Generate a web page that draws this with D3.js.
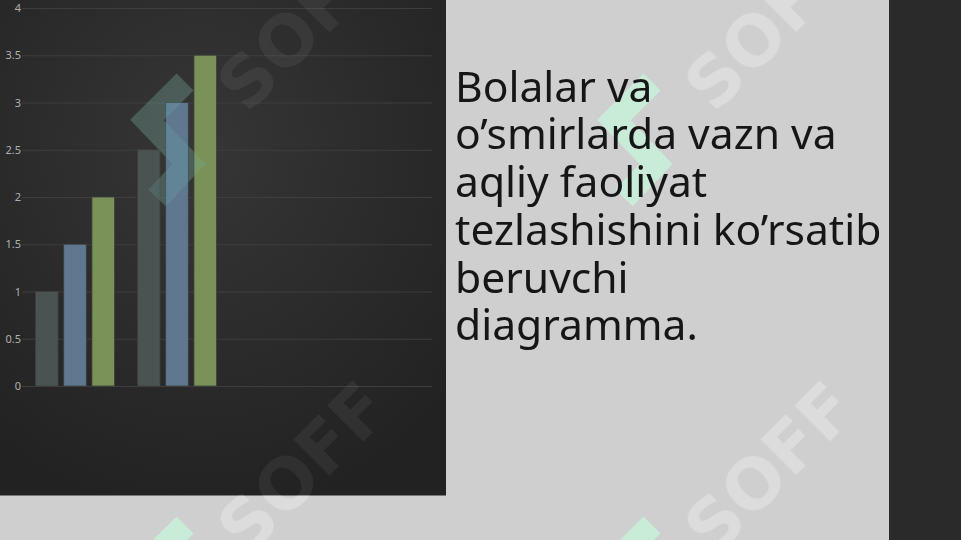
<!DOCTYPE html>
<html>
<head>
<meta charset="utf-8">
<script src="https://cdn.jsdelivr.net/npm/d3@7"></script>
<style>
  html, body { margin: 0; padding: 0; background: #cfcfcf; }
  svg { display: block; }
</style>
</head>
<body>
<svg id="chart" width="961" height="540"></svg>
<script>
// ---- data ----
const categories = ["Category 1", "Category 2", "Category 3", "Category 4"];
const seriesNames = ["Series 1", "Series 2", "Series 3"];
const series1 = [1, 2.5, null, null];
const series2 = [1.5, 3, null, null];
const series3 = [2, 3.5, null, null];
const yTicks = [0, 0.5, 1, 1.5, 2, 2.5, 3, 3.5, 4];
const yTickLabels = ["0", "0.5", "1", "1.5", "2", "2.5", "3", "3.5", "4"];
const titleLines = ["Bolalar va", "o\u2019smirlarda vazn va", "aqliy faoliyat", "tezlashishini ko\u2019rsatib", "beruvchi", "diagramma."];
const watermarkText = "SOFF";

const seriesValues = [series1, series2, series3];
const colors = ["#4b5252", "#5f7890", "#7a9157"];

const svg = d3.select("#chart");
const W = 961, H = 540;
const defs = svg.append("defs");

// backgrounds
svg.append("rect").attr("x", 0).attr("y", 0).attr("width", W).attr("height", H).attr("fill", "#cfcfcf");
svg.append("rect").attr("x", 889).attr("y", 0).attr("width", W - 889).attr("height", H).attr("fill", "#2a2a2a");

const grad = defs.append("radialGradient").attr("id", "panelGrad")
  .attr("cx", "45%").attr("cy", "30%").attr("r", "75%");
grad.append("stop").attr("offset", "0%").attr("stop-color", "#363636");
grad.append("stop").attr("offset", "100%").attr("stop-color", "#222222");

const panel = { x: 0, y: 0, w: 446, h: 495.5 };
svg.append("rect").attr("x", panel.x).attr("y", panel.y).attr("width", panel.w).attr("height", panel.h)
  .attr("fill", "url(#panelGrad)");

defs.append("clipPath").attr("id", "panelClip").append("rect")
  .attr("x", panel.x).attr("y", panel.y).attr("width", panel.w).attr("height", panel.h);
defs.append("mask").attr("id", "outsideMask").call(m => {
  m.append("rect").attr("x", 0).attr("y", 0).attr("width", W).attr("height", H).attr("fill", "white");
  m.append("rect").attr("x", panel.x).attr("y", panel.y).attr("width", panel.w).attr("height", panel.h).attr("fill", "black");
  m.append("rect").attr("x", 889).attr("y", 0).attr("width", W - 889).attr("height", H).attr("fill", "black");
});

// ---- chart ----
const y = d3.scaleLinear().domain([0, 4]).range([386, 8]);
const x0 = d3.scaleBand().domain(categories).range([24, 432]).paddingInner(0.225).paddingOuter(0.1125);
const x1 = d3.scaleBand().domain(seriesNames).range([0, x0.bandwidth()]).paddingInner(0.2);

const yAxis = d3.axisLeft(y).tickValues(yTicks).tickSize(-(432 - 22))
  .tickFormat((d, i) => yTickLabels[i]).tickPadding(1);
const gy = svg.append("g").attr("transform", "translate(22,0)").call(yAxis);
gy.select(".domain").remove();
gy.selectAll(".tick line").attr("stroke", "#3e3e3e").attr("stroke-width", 1);
gy.selectAll(".tick text").attr("fill", "#b0b0b0").attr("font-size", 11)
  .attr("font-family", "'Noto Sans', 'Open Sans', sans-serif");

// ---- watermarks (under the bars in the panel) ----
const tileCenters = [[303, 25], [770, 25], [303, 468], [770, 468]];
const logoTops = [[181, 68], [648, 68], [181, 511], [648, 511]];
function drawWatermarks(g, textFill, textOpacity, logoFill, logoOpacity) {
  g.selectAll("path.logo").data(logoTops).join("path").attr("class", "logo")
    .attr("transform", d => `translate(${d[0]},${d[1]})`)
    .attr("d", "M4,14 L-34,52 L8,96 L-24,130")
    .attr("fill", "none").attr("stroke", logoFill).attr("stroke-opacity", logoOpacity)
    .attr("stroke-width", 24).attr("stroke-linejoin", "miter");
  g.selectAll("text.wm").data(tileCenters).join("text").attr("class", "wm")
    .attr("transform", d => `translate(${d[0]},${d[1]}) rotate(-45)`)
    .attr("text-anchor", "middle").attr("dominant-baseline", "central")
    .attr("font-family", "'DejaVu Sans', sans-serif").attr("font-weight", "bold")
    .attr("font-size", 70).attr("fill", textFill).attr("fill-opacity", textOpacity)
    .text(watermarkText);
}
const wmPanel = svg.append("g").attr("clip-path", "url(#panelClip)");
drawWatermarks(wmPanel, "#ffffff", 0.06, "#b8c8c0", 0.14);

const groups = svg.append("g").selectAll("g").data(categories).join("g")
  .attr("transform", d => `translate(${x0(d)},0)`);
groups.selectAll("rect")
  .data((c, ci) => seriesNames.map((s, si) => ({ s, si, v: seriesValues[si][ci] })).filter(d => d.v != null))
  .join("rect")
  .attr("x", d => x1(d.s))
  .attr("width", x1.bandwidth())
  .attr("y", d => y(d.v))
  .attr("height", d => y(0) - y(d.v))
  .attr("fill", d => colors[d.si])
  .attr("stroke", "#3a3f3f").attr("stroke-width", 0.8);

// logo tint over bars (as in the reference, it shows through)
svg.append("g").attr("clip-path", "url(#panelClip)")
  .selectAll("path").data([logoTops[0]]).join("path")
  .attr("transform", d => `translate(${d[0]},${d[1]})`)
  .attr("d", "M4,14 L-34,52 L8,96 L-24,130")
  .attr("fill", "none").attr("stroke", "#6fd0c0").attr("stroke-opacity", 0.16)
  .attr("stroke-width", 24).attr("stroke-linejoin", "miter");

drawWatermarks(svg.append("g").attr("mask", "url(#outsideMask)"), "#ffffff", 0.28, "#c8ecd8", 1);

// ---- title ----
const title = svg.append("text").attr("x", 455).attr("y", 101.7)
  .attr("font-family", "'Noto Sans', 'Open Sans', sans-serif")
  .attr("font-size", 42.6).attr("fill", "#161616");
title.selectAll("tspan").data(titleLines).join("tspan")
  .attr("x", 455).attr("dy", (d, i) => i === 0 ? 0 : 47.7).text(d => d);
</script>
</body>
</html>
